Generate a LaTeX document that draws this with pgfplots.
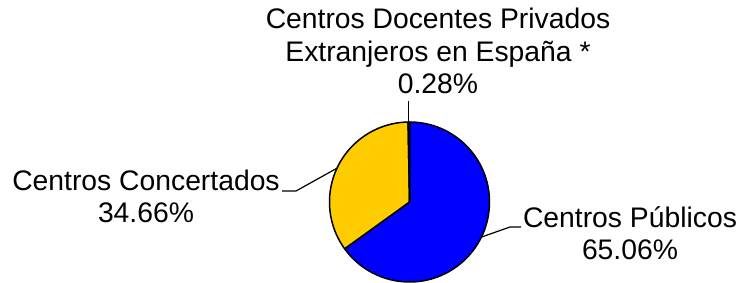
\documentclass[border=0pt]{standalone}
\usepackage{fontspec}
\setmainfont{Liberation Sans}
\usepackage{pgfplots}
\usepackage{pgfplotstable}
\pgfplotsset{compat=1.18}
\definecolor{pubblue}{RGB}{0,0,255}
\definecolor{conyellow}{RGB}{255,204,0}
\definecolor{privblack}{RGB}{20,20,20}

\pgfplotstableread{
label value
Publicos 65.06
Concertados 34.66
Privados 0.28
}\piedata
\pgfplotstablegetelem{0}{value}\of\piedata \let\vPub\pgfplotsretval
\pgfplotstablegetelem{1}{value}\of\piedata \let\vCon\pgfplotsretval
\pgfplotstablegetelem{2}{value}\of\piedata \let\vPriv\pgfplotsretval
\pgfmathsetmacro\aStart{90}
\pgfmathsetmacro\aPub{90-3.6*\vPub}
\pgfmathsetmacro\aCon{\aPub-3.6*\vCon}
\pgfmathsetmacro\aPriv{\aCon-3.6*\vPriv}

\begin{document}
\begin{tikzpicture}
\begin{axis}[
  scale only axis, width=740pt, height=283pt,
  xmin=0, xmax=740, ymin=0, ymax=283,
  hide axis, clip=false,
]
\coordinate (ll) at (rel axis cs:0,0);
\coordinate (ur) at (rel axis cs:1,1);
% wedges
\filldraw[fill=pubblue, draw=black, line width=1.5pt, line join=round]
  (axis cs:409.5,81) -- ++(\aStart:80pt) arc[start angle=\aStart, end angle=\aPub, radius=80pt] -- cycle;
\filldraw[fill=conyellow, draw=black, line width=1.5pt, line join=round]
  (axis cs:409.5,81) -- ++(\aPub:80pt) arc[start angle=\aPub, end angle=\aCon, radius=80pt] -- cycle;
\filldraw[fill=privblack, draw=black, line width=1.5pt, line join=round]
  (axis cs:409.5,81) -- ++(\aCon:80pt) arc[start angle=\aCon, end angle=\aPriv, radius=80pt] -- cycle;
% leader lines
\draw[line width=1.2pt] (axis cs:408.8,181.5) -- (axis cs:408.8,161);
\draw[line width=1.2pt] (axis cs:282,92) -- (axis cs:296,92) -- (axis cs:337,114.8);
\draw[line width=1.2pt] (axis cs:521,56) -- (axis cs:510,56) -- (axis cs:481.4,45.9);
% labels
\node[anchor=base, inner sep=0pt, align=center, font=\fontsize{28.3}{32.5}\selectfont]
  at (axis cs:438,189) {Centros Docentes Privados\\Extranjeros en España *\\0.28\%};
\node[anchor=base, inner sep=0pt, align=center, font=\fontsize{28.3}{32.5}\selectfont]
  at (axis cs:146,60.3) {Centros Concertados\\34.66\%};
\node[anchor=base, inner sep=0pt, align=center, font=\fontsize{28.3}{32.5}\selectfont]
  at (axis cs:630,23) {Centros Públicos\\65.06\%};
\end{axis}
\pgfresetboundingbox
\path (ll) rectangle (ur);
\end{tikzpicture}
\end{document}
